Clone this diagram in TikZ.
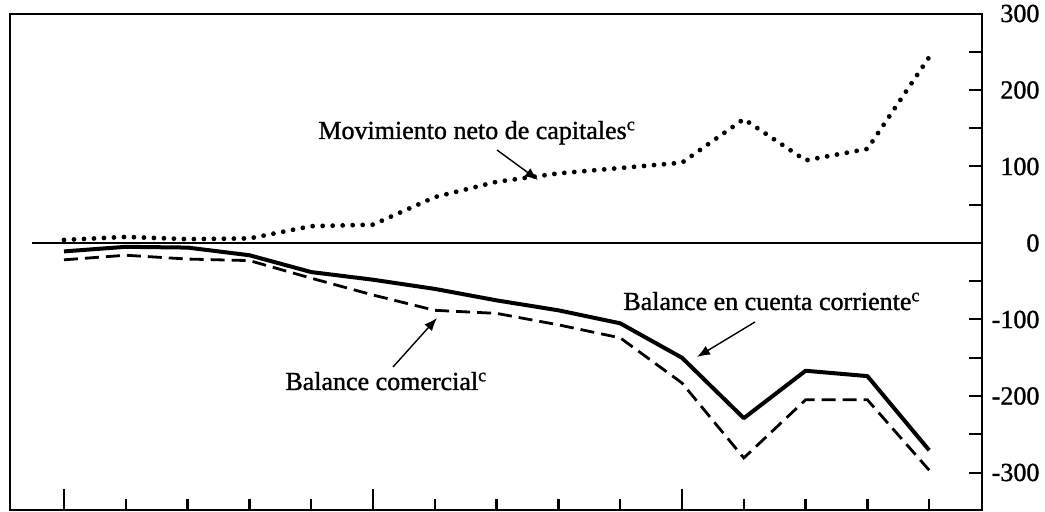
\documentclass[tikz,border=0pt]{standalone}
\usepackage{fontspec}
\setmainfont{Liberation Serif}
\newfontfamily\scanfont{Liberation Serif}[FakeBold=1.2]
\usetikzlibrary{arrows.meta}

\begin{document}
\begin{tikzpicture}[x=0.5pt, y=-0.5pt, font=\scanfont\fontsize{13}{15}\selectfont,
	every node/.style={inner sep=0pt},
	serie cur/.style={line width=2pt, line join=round},
	serie com/.style={line width=1.4pt, dash pattern=on 7pt off 3.5pt},
	serie cap/.style={line width=2.4pt, line cap=round, dash pattern=on 0pt off 5pt},
	pointer/.style={-{Latex[length=6.5pt,width=5pt]}, line width=0.7pt}]
			\useasboundingbox (0,0) rectangle (1045,512);
			% Frame
			\draw[line width=1pt] (10,14) rectangle (982,510);
			\draw[line width=1.4pt] (982,14) -- (982,510);
			
			% Series (year index, value)
			\begin{scope}[shift={(64,243)}, x=30.9pt, y=0.3825pt]
			\draw[line width=0.7pt] (-0.52,0) -- (14.854,0);
			% ticks and labels
			\foreach \v in {-300,-250,...,250}
				\draw[line width=1pt] (14.854,\v) -- ++(-0.21,0);
			\foreach \v in {300,200,...,-300}
				\node[anchor=east] (yl\v) at (15.79,\v) {\v};
			\foreach \i in {0,...,14}
				\draw[line width=1.2pt] (\i,-349) -- (\i,-335);
			\foreach \i in {0,5,10}
				\draw[line width=1.2pt] (\i,-349) -- (\i,-322);
			
			\draw[serie cap] (0,4) -- (1,8) -- (2,5) -- (3,6) -- (4,22) -- (5,24) -- (6,60) -- (7,80)
				-- (8,91) -- (9,98) -- (10,105) -- (11,162) -- (12,108) -- (13,123) -- (14,243);
			\draw[serie cur] (0,-11) -- (1,-5) -- (2,-6) -- (3,-16) -- (4,-38) -- (5,-48) -- (6,-60) -- (7,-75)
				-- (8,-88) -- (9,-105) -- (10,-150) -- (11,-229) -- (12,-167) -- (13,-174) -- (14,-271);
			\draw[serie com] (0,-22) -- (1,-16) -- (2,-21) -- (3,-23) -- (4,-46) -- (5,-68) -- (6,-88) -- (7,-92)
				-- (8,-107) -- (9,-124) -- (10,-183) -- (11,-281) -- (12,-205) -- (13,-205) -- (14,-297);
			\end{scope}
			
			% Labels
			\node[anchor=base west] (cap) at (318,139) {Movimiento neto de capitales\textsuperscript{c}};
			\node[anchor=base west] (cur) at (623,310) {Balance en cuenta corriente\textsuperscript{c}};
			\node[anchor=base west] (com) at (285,390) {Balance comercial\textsuperscript{c}};
			\coordinate (capa) at (497,150);
			\coordinate (capb) at (538,180);
			\coordinate (cura) at (755,322);
			\coordinate (curb) at (697,357);
			\coordinate (coma) at (393,367);
			\coordinate (comb) at (437,318);
			\draw[pointer] (capa) -- (capb);
			\draw[pointer] (cura) -- (curb);
			\draw[pointer] (coma) -- (comb);
		\end{tikzpicture}
\end{document}
